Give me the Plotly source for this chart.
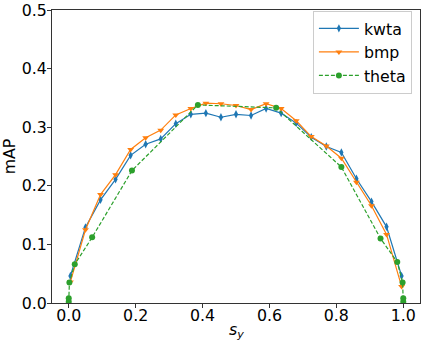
import plotly.graph_objects as go

# s_y positions of the kwta / bmp runs
sy = [0.005, 0.05, 0.095, 0.14, 0.185, 0.23, 0.275, 0.32, 0.365, 0.41, 0.455, 0.5,
      0.545, 0.59, 0.635, 0.68, 0.725, 0.77, 0.815, 0.86, 0.905, 0.95, 0.995]
kwta = [0.046, 0.129, 0.176, 0.211, 0.252, 0.271, 0.280, 0.306, 0.322, 0.324, 0.317, 0.322,
        0.320, 0.332, 0.324, 0.307, 0.283, 0.267, 0.257, 0.212, 0.173, 0.130, 0.046]
bmp = [0.036, 0.125, 0.185, 0.219, 0.262, 0.282, 0.295, 0.321, 0.332, 0.341, 0.340, 0.337,
       0.330, 0.340, 0.332, 0.311, 0.284, 0.268, 0.247, 0.206, 0.166, 0.117, 0.028]

# theta run uses its own s_y positions
sy_theta = [0.0, 0.0, 0.002, 0.018, 0.07, 0.189, 0.386, 0.62, 0.815, 0.932, 0.982, 0.998, 1.0, 1.0]
theta = [0.002, 0.008, 0.035, 0.066, 0.112, 0.226, 0.338, 0.333, 0.232, 0.110, 0.070, 0.035, 0.008, 0.002]

FONT = "DejaVu Sans"
FS = 15.8

fig = go.Figure()
fig.add_trace(go.Scatter(
    x=sy, y=kwta, name="kwta", mode="lines+markers",
    line=dict(color="#1f77b4", width=1.2),
    marker=dict(symbol="diamond-tall", size=6, color="#1f77b4"),
))
fig.add_trace(go.Scatter(
    x=sy, y=bmp, name="bmp", mode="lines+markers",
    line=dict(color="#ff7f0e", width=1.2),
    marker=dict(symbol="triangle-down", size=6, color="#ff7f0e"),
))
fig.add_trace(go.Scatter(
    x=sy_theta, y=theta, name="theta", mode="lines+markers",
    line=dict(color="#2ca02c", width=1.2, dash="4px,2px"),
    marker=dict(symbol="circle", size=6, color="#2ca02c"),
))

axis_common = dict(
    showgrid=False, zeroline=False, showline=True, linecolor="#333333", linewidth=1,
    mirror=True, ticks="outside", ticklen=4, tickcolor="#333333", automargin=False,
    tickfont=dict(family=FONT, size=FS, color="black"),
)

fig.update_xaxes(
    range=[-0.05, 1.05], tickvals=[0, 0.2, 0.4, 0.6, 0.8, 1.0], tickformat=".1f",
    ticklabelstandoff=-6, **axis_common,
)
fig.update_yaxes(
    range=[0, 0.5], tickvals=[0, 0.1, 0.2, 0.3, 0.4, 0.5], tickformat=".1f",
    ticklabelstandoff=-3,
    title=dict(text="mAP", font=dict(family=FONT, size=FS, color="black"), standoff=6),
    **axis_common,
)

# x-axis label s_y, placed as an annotation for exact position
fig.add_annotation(
    text="<i>s</i><sub><i>y</i></sub>", xref="paper", yref="paper",
    x=0.5, y=-0.05, xanchor="center", yanchor="top", showarrow=False,
    font=dict(family=FONT, size=FS, color="black"),
)

fig.update_layout(
    width=427, height=346,
    margin=dict(l=52, r=7, t=10, b=43),
    paper_bgcolor="white", plot_bgcolor="white",
    font=dict(family=FONT, color="black"),
    legend=dict(
        x=0.978, y=0.998, xanchor="right", yanchor="top",
        bgcolor="rgba(255,255,255,0.8)", bordercolor="#cccccc", borderwidth=1,
        font=dict(family=FONT, size=FS, color="black"),
        itemwidth=40,
    ),
    showlegend=True,
)

# drop the browser's default body margin so the figure sits at the page corner
fig.write_html("out.html", config={"displayModeBar": False},
               post_script="document.body.style.margin='0px';")
